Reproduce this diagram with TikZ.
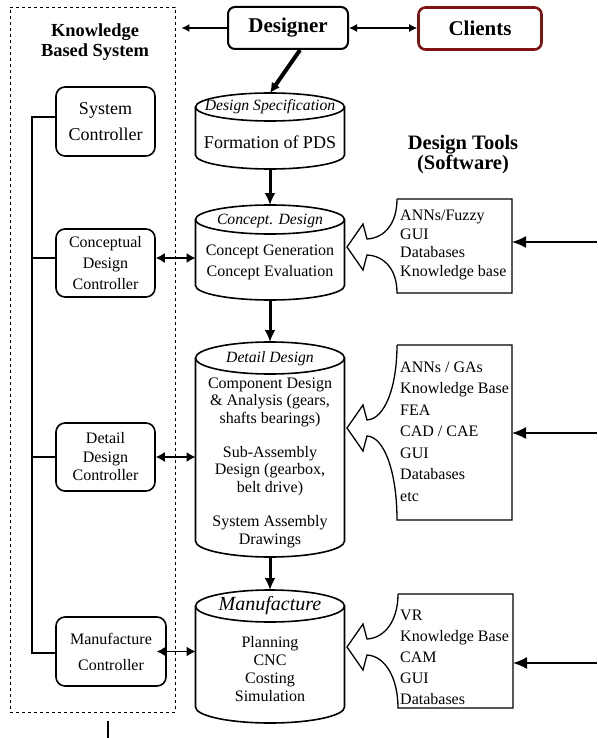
\documentclass[tikz,border=0pt]{standalone}
\usepackage{fontspec}
\setmainfont{Liberation Serif}
\usetikzlibrary{arrows.meta}
\usetikzlibrary{calc}
\definecolor{clientred}{RGB}{128,18,18}

\newcommand{\drum}[2]{%
  \draw[drum line] ([yshift=-#2]#1.north west) -- ([yshift=#2]#1.south west)
    arc[start angle=180,end angle=360,x radius=74.5pt,y radius=#2]
    -- ([yshift=-#2]#1.north east);
  \draw[drum line] ([yshift=-#2]#1.north) ellipse[x radius=74.5pt,y radius=#2];}

\newcommand{\callout}[2]{%
  \draw[tool line] (#1.north west) -- (#1.north east) -- (#1.south east) -- (#1.south west)
    .. controls ($(#1.south west)!0.5!(#1.west |- 0,#2)$) and (385,#2+9) .. (367,#2+8)
    -- (363,#2+23) -- (347,#2) -- (363,#2-23) -- (367,#2-8)
    .. controls (385,#2-9) and ($(#1.north west)!0.5!(#1.west |- 0,#2)$) .. (#1.north west);}

\begin{document}
\begin{tikzpicture}[x=1pt,y=-1pt,>={Latex[length=8pt,width=8pt]},
    head box/.style={draw,line width=2pt,rounded corners=7pt,minimum height=42,
      font=\fontsize{21}{24}\selectfont\bfseries},
    ctrl box/.style={draw,line width=1.6pt,rounded corners=9pt,align=center,
      minimum width=99,minimum height=68,font=\fontsize{16}{21}\selectfont},
    drum/.style={minimum width=149,inner sep=0pt,outer sep=0pt},
    drum line/.style={line width=1.6pt},
    drum title/.style={font=\fontsize{15.7}{18}\selectfont\itshape},
    drum text/.style={align=center,font=\fontsize{16}{17.5}\selectfont},
    tool area/.style={minimum width=115,inner sep=0pt,outer sep=0pt},
    tool line/.style={line width=1.3pt},
    tool text/.style={anchor=west,align=left,inner sep=0pt},
    heading/.style={align=center,font=\fontsize{18.4}{20}\selectfont\bfseries},
    flow/.style={->,line width=3pt,>={Latex[length=12pt,width=11pt]}},
    link/.style={<->,line width=1.3pt},
    input/.style={->,line width=1.5pt,>={Latex[length=14pt,width=12pt]}},
    bus/.style={line width=2.2pt}]
  \useasboundingbox (0,0) rectangle (597,738);

  % knowledge based system
  \node[draw,dashed,line width=0.8pt,minimum width=165,minimum height=705,inner sep=0pt] (kbs) at (92.5,359.5) {};
  \node[heading] (kbs title) at (95,42) {Knowledge\\Based System};

  \node[head box,minimum width=120] (designer) at (288,28) {Designer};
  \node[head box,draw=clientred,line width=2.6pt,minimum width=123] (clients) at (480,28.5) {Clients};

  % controllers
  \node[ctrl box,font=\fontsize{18}{26}\selectfont,minimum height=69] (sys ctrl) at (105.5,121.5) {System\\Controller};
  \node[ctrl box] (concept ctrl) at (105.5,263) {Conceptual\\Design\\Controller};
  \node[ctrl box,font=\fontsize{16}{18.5}\selectfont] (detail ctrl) at (105.5,457) {Detail\\Design\\Controller};
  \node[ctrl box,font=\fontsize{16}{26}\selectfont,minimum width=110,minimum height=69] (manuf ctrl) at (111,651.5) {Manufacture\\Controller};

  % design stages
  \node[drum,minimum height=76] (spec) at (270,131) {};
  \node[drum,minimum height=95] (concept) at (270,252.5) {};
  \node[drum,minimum height=215] (detail) at (270,449.5) {};
  \node[drum,minimum height=133] (manuf) at (270,656.5) {};
  \drum{spec}{14pt}
  \drum{concept}{14.5pt}
  \drum{detail}{16pt}
  \drum{manuf}{16pt}

  \node[drum title] (spec title) at (270,107) {Design Specification};
  \node[drum text,font=\fontsize{18}{21}\selectfont] (spec text) at (270,142) {Formation of PDS};
  \node[drum title] (concept title) at (270,221) {Concept. Design};
  \node[drum text,font=\fontsize{16}{21}\selectfont] (concept text) at (270,262) {Concept Generation\\Concept Evaluation};
  \node[drum title] (detail title) at (270,359) {Detail Design};
  \node[drum text] (detail text a) at (270,402) {Component Design\\\& Analysis (gears,\\shafts bearings)};
  \node[drum text] (detail text b) at (270,471) {Sub-Assembly\\Design (gearbox,\\belt drive)};
  \node[drum text] (detail text c) at (270,531.5) {System Assembly\\Drawings};
  \node[drum title,font=\fontsize{20}{22}\selectfont\itshape] (manuf title) at (270,606) {Manufacture};
  \node[drum text,font=\fontsize{16}{18.3}\selectfont] (manuf text) at (270,669) {Planning\\CNC\\Costing\\Simulation};

  % design tools
  \node[heading,font=\fontsize{20.5}{20}\selectfont\bfseries] (tools title) at (463,155) {Design Tools\\(Software)};
  \node[tool area,minimum height=94] (tools1) at (454.5,246) {};
  \node[tool area,minimum height=175] (tools2) at (454.5,432.5) {};
  \node[tool area,minimum height=114] (tools3) at (455.5,651) {};
  \callout{tools1}{247}
  \callout{tools2}{428}
  \callout{tools3}{647}
  \node[tool text,font=\fontsize{16}{18.7}\selectfont] (tools1 text) at (400,245) {ANNs/Fuzzy\\GUI\\Databases\\Knowledge base};
  \node[tool text,font=\fontsize{16}{21.5}\selectfont] (tools2 text) at (400,431.5) {ANNs / GAs\\Knowledge Base\\FEA\\CAD / CAE\\GUI\\Databases\\etc};
  \node[tool text,font=\fontsize{16}{21}\selectfont] (tools3 text) at (400,657) {VR\\Knowledge Base\\CAM\\GUI\\Databases};

  \coordinate (in1) at (597,242);
  \coordinate (in2) at (597,433);
  \coordinate (in3) at (597,663);
  \draw[input] (in1) -- (in1 -| tools1.east);
  \draw[input] (in2) -- (in2 -| tools2.east);
  \draw[input] (in3) -- (in3 -| tools3.east);

  % flow of the design
  \draw[flow,line width=4pt,>={Latex[length=10pt,width=10pt]}] ([xshift=12pt]designer.south) -- (spec.north);
  \draw[flow] (spec) -- (concept);
  \draw[flow] (concept) -- (detail);
  \draw[flow] (detail) -- (manuf);

  \draw[link] (designer.east) -- (designer.east -| clients.west);
  \draw[->,line width=1.3pt,shorten >=6pt] (designer.west) -- (designer.west -| kbs.east);

  \coordinate (concept tap) at ([yshift=5pt]concept ctrl.east);
  \coordinate (concept bus) at ([yshift=5pt]concept ctrl.west);
  \coordinate (manuf tap) at ([xshift=-10pt]manuf ctrl.east);
  \draw[link,>={Latex[length=9pt,width=10pt]}] (concept tap) -- (concept tap -| concept.west);
  \draw[link,>={Latex[length=9pt,width=10pt]}] (detail ctrl.east) -- (detail ctrl.east -| detail.west);
  \draw[link,>={Latex[length=9pt,width=10pt]}] (manuf tap) -- (manuf tap -| manuf.west);

  % controller bus
  \coordinate (bus top) at (32,117);
  \coordinate (bus end) at (32,653);
  \draw[bus] (sys ctrl.west |- bus top) -- (bus top) -- (bus end) -- (manuf ctrl.west |- bus end);
  \draw[bus] (concept bus) -- (concept bus -| bus top);
  \draw[bus] (detail ctrl.west) -- (detail ctrl.west -| bus top);

  \coordinate (stub top) at (108,721);
  \coordinate (stub end) at (108,738);
  \draw[line width=1.3pt] (stub top) -- (stub end);
\end{tikzpicture}
\end{document}
